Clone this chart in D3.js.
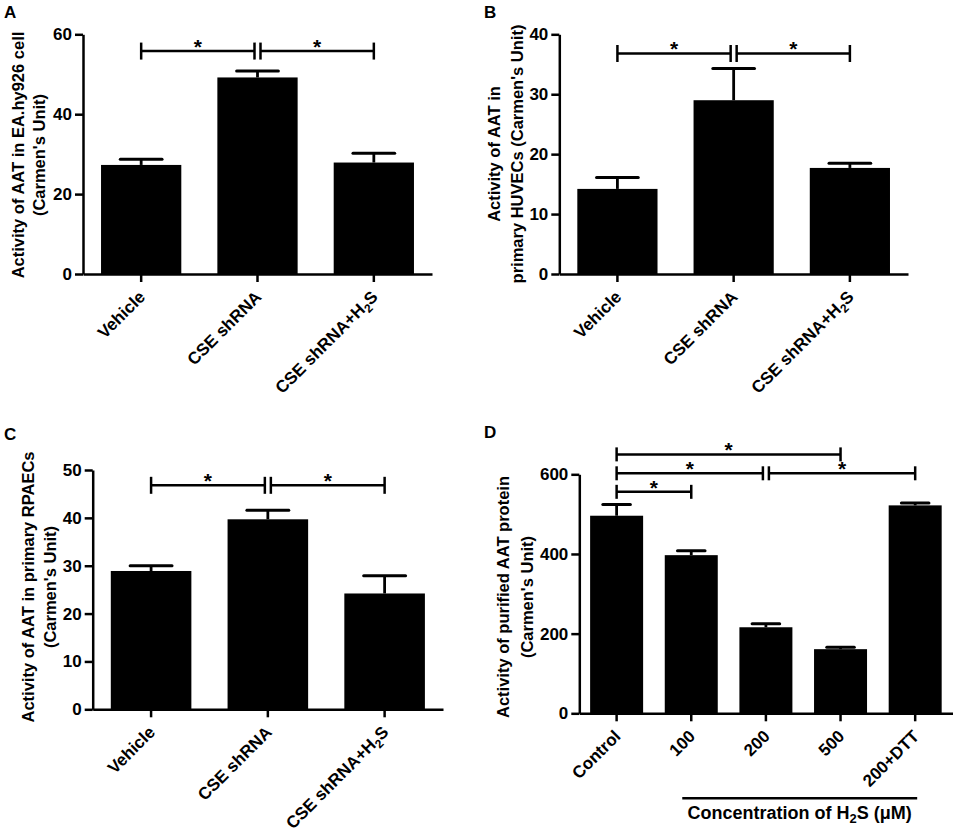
<!DOCTYPE html>
<html>
<head>
<meta charset="utf-8">
<script src="https://cdn.jsdelivr.net/npm/d3@7"></script>
<style>
  html, body { margin: 0; padding: 0; background: #fff; }
  svg { display: block; }
  text { font-family: "Liberation Sans", Arial, sans-serif; font-weight: bold; fill: #000; }
</style>
</head>
<body>
<svg id="fig" width="965" height="839"></svg>
<script>
// ---------------- DATA ----------------
const catsABC = ["Vehicle", "CSE shRNA", "CSE shRNA+H2S"];

const meanA = [27.3, 49.2, 27.9];
const semA  = [1.4, 1.6, 2.3];
const ticksA = [0, 20, 40, 60];

const meanB = [14.2, 29.0, 17.7];
const semB  = [1.9, 5.3, 0.8];
const ticksB = [0, 10, 20, 30, 40];

const meanC = [28.9, 39.7, 24.2];
const semC  = [1.1, 1.9, 3.7];
const ticksC = [0, 10, 20, 30, 40, 50];

const catsD = ["Control", "100", "200", "500", "200+DTT"];
const meanD = [496, 397, 216, 161, 522];
const semD  = [28, 11, 9, 5, 6];
const ticksD = [0, 200, 400, 600];

// significance brackets: [fromIndex, toIndex, level]
const sigA = [[0, 1, 55.8], [1, 2, 55.8]];
const sigB = [[0, 1, 36.8], [1, 2, 36.8]];
const sigC = [[0, 1, 46.8], [1, 2, 46.8]];
const sigD = [[0, 3, 650], [0, 2, 602.5], [2, 4, 602.5], [0, 1, 556]];

const ylabA = ["Activity of AAT in EA.hy926 cell", "(Carmen's Unit)"];
const ylabB = ["Activity of  AAT in", "primary HUVECs (Carmen's Unit)"];
const ylabC = ["Activity of AAT in primary RPAECs", "(Carmen's Unit)"];
const ylabD = ["Activity of purified AAT protein", "(Carmen's Unit)"];

// ---------------- DRAW ----------------
const svg = d3.select("#fig");

function writeLabel(sel, label, subSize) {
  const m = label.match(/^(.*H)2(S.*)$/);
  if (m) {
    sel.append("tspan").text(m[1]);
    sel.append("tspan").attr("font-size", subSize).attr("dy", 4).text("2");
    sel.append("tspan").attr("dy", -4).text(m[2]);
  } else {
    sel.text(label);
  }
}

function panel(o) {
  const g = svg.append("g");
  const x = d3.scaleBand().domain(o.cats).range([o.x0, o.x1])
    .paddingInner(o.pad).paddingOuter(o.pad / 2);
  const y = d3.scaleLinear().domain([0, o.yMax]).range([o.yBase, o.yTop]);

  // panel letter
  g.append("text").attr("x", o.letter[1]).attr("y", o.letter[2])
    .attr("font-size", 17).text(o.letter[0]);

  // bars
  g.selectAll("rect.bar").data(o.means).join("rect")
    .attr("class", "bar")
    .attr("x", (d, i) => x(o.cats[i]))
    .attr("width", x.bandwidth())
    .attr("y", d => y(d))
    .attr("height", d => y(0) - y(d))
    .attr("fill", "#000");

  // error bars (upper only)
  const capW = x.bandwidth() * 0.52;
  o.means.forEach((m, i) => {
    const cx = x(o.cats[i]) + x.bandwidth() / 2;
    g.append("line").attr("x1", cx).attr("x2", cx)
      .attr("y1", y(m)).attr("y2", y(m + o.sems[i]))
      .attr("stroke", "#000").attr("stroke-width", 2.8);
    g.append("line").attr("x1", cx - capW / 2).attr("x2", cx + capW / 2)
      .attr("y1", y(m + o.sems[i])).attr("y2", y(m + o.sems[i]))
      .attr("stroke", "#000").attr("stroke-width", 3).attr("stroke-linecap", "round");
  });

  // y axis
  const ya = g.append("g").attr("transform", `translate(${o.x0},0)`)
    .call(d3.axisLeft(y).tickValues(o.ticks).tickSize(8).tickSizeOuter(0).tickPadding(3));
  ya.select(".domain").attr("stroke-width", 2.5);
  ya.selectAll(".tick line").attr("stroke-width", 2.5);
  ya.selectAll(".tick text").attr("font-size", 17)
    .attr("font-family", "Liberation Sans, Arial, sans-serif").attr("font-weight", "bold");

  // x axis
  const xa = g.append("g").attr("transform", `translate(0,${o.yBase})`)
    .call(d3.axisBottom(x).tickSize(8).tickSizeOuter(0).tickFormat(""));
  xa.select(".domain").attr("stroke-width", 2.5);
  xa.selectAll(".tick line").attr("stroke-width", 2.5);
  xa.selectAll(".tick text").remove();
  xa.selectAll(".tick").each(function (d) {
    const t = d3.select(this).append("text")
      .attr("transform", "translate(5,24) rotate(-45)")
      .attr("text-anchor", "end")
      .attr("font-size", 17)
      .attr("font-family", "Liberation Sans, Arial, sans-serif")
      .attr("font-weight", "bold")
      .attr("fill", "#000");
    writeLabel(t, d, 12);
  });

  // y label
  const yl = g.append("text").attr("text-anchor", "middle").attr("font-size", 16.5)
    .attr("transform", `translate(0,${o.ylabY}) rotate(-90)`);
  o.ylab.forEach((line, k) => {
    yl.append("tspan").attr("x", 0).attr("y", o.ylabX[k]).text(line);
  });

  // significance brackets
  const center = i => x(o.cats[i]) + x.bandwidth() / 2;
  o.sig.forEach(([a, b, lvl]) => {
    const sharedRight = o.sig.some(t => t[0] === b && t[2] === lvl);
    const sharedLeft = o.sig.some(t => t[1] === a && t[2] === lvl);
    const xa1 = center(a) + (sharedLeft ? 3 : 0);
    const xb1 = center(b) - (sharedRight ? 3 : 0);
    const yy = y(lvl);
    g.append("line").attr("x1", xa1).attr("x2", xb1).attr("y1", yy).attr("y2", yy)
      .attr("stroke", "#000").attr("stroke-width", 2.5);
    [xa1, xb1].forEach(xx => {
      g.append("line").attr("x1", xx).attr("x2", xx)
        .attr("y1", yy - o.tick).attr("y2", yy + o.tick)
        .attr("stroke", "#000").attr("stroke-width", 2.5);
    });
    g.append("text").attr("x", (xa1 + xb1) / 2).attr("y", yy + 3)
      .attr("text-anchor", "middle").attr("font-size", 21).text("*");
  });
  return { x, y, g };
}

panel({ letter: ["A", 4, 18], cats: catsABC, means: meanA, sems: semA, ticks: ticksA, yMax: 60,
  x0: 83, x1: 432, yTop: 34.3, yBase: 274, pad: 0.31,
  ylab: ylabA, ylabX: [24, 45], ylabY: 155, sig: sigA, tick: 8.5 });

panel({ letter: ["B", 484, 18], cats: catsABC, means: meanB, sems: semB, ticks: ticksB, yMax: 40,
  x0: 559.3, x1: 908, yTop: 34.3, yBase: 274, pad: 0.31,
  ylab: ylabB, ylabX: [500, 523], ylabY: 154, sig: sigB, tick: 8.5 });

panel({ letter: ["C", 4, 440], cats: catsABC, means: meanC, sems: semC, ticks: ticksC, yMax: 50,
  x0: 92.7, x1: 443, yTop: 470, yBase: 709.3, pad: 0.31,
  ylab: ylabC, ylabX: [34, 56], ylabY: 587, sig: sigC, tick: 8.5 });

const pD = panel({ letter: ["D", 484, 438], cats: catsD, means: meanD, sems: semD, ticks: ticksD, yMax: 600,
  x0: 579.3, x1: 952.5, yTop: 474.3, yBase: 713.3, pad: 0.29,
  ylab: ylabD, ylabX: [509, 533], ylabY: 597, sig: sigD, tick: 7 });

// concentration underline + label for panel D
{
  const xD = pD.x;
  const c1 = xD("100") + xD.bandwidth() / 2 - 9;
  const c2 = xD("200+DTT") + xD.bandwidth() / 2 + 2;
  pD.g.append("line").attr("x1", c1).attr("x2", c2).attr("y1", 798.3).attr("y2", 798.3)
    .attr("stroke", "#000").attr("stroke-width", 2.5);
  const t = pD.g.append("text").attr("x", (c1 + c2) / 2).attr("y", 819)
    .attr("text-anchor", "middle").attr("font-size", 18);
  t.append("tspan").text("Concentration of H");
  t.append("tspan").attr("font-size", 13).attr("dy", 4).text("2");
  t.append("tspan").attr("dy", -4).text("S (μM)");
}
</script>
</body>
</html>
